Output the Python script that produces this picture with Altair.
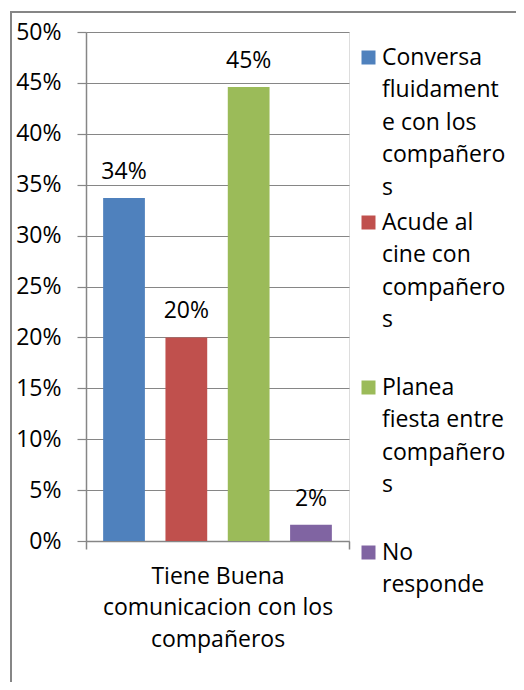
import altair as alt
import pandas as pd

# ---- data ----
categoria = "Tiene Buena comunicacion con los compañeros"
categoria_lineas = ["Tiene Buena", "comunicacion con los", "compañeros"]
series = [
    "Conversa fluidamente con los compañeros",
    "Acude al cine con compañeros",
    "Planea fiesta entre compañeros",
    "No responde",
]
leyenda_lineas = [
    ["Conversa", "fluidament", "e con los", "compañero", "s"],
    ["Acude al", "cine con", "compañero", "s"],
    ["Planea", "fiesta entre", "compañero", "s"],
    ["No", "responde"],
]
valores = [0.337, 0.200, 0.446, 0.016]
colores = ["#4F81BD", "#C0504D", "#9BBB59", "#8064A2"]
y_ticks = [0, 0.05, 0.10, 0.15, 0.20, 0.25, 0.30, 0.35, 0.40, 0.45, 0.50]

df = pd.DataFrame({"grupo": [categoria] * len(series), "serie": series, "valor": valores})

FONT = "Open Sans"
FS = 23
GRAY = "#868686"


def arr(lines, n=None):
    lines = list(lines)
    if n is not None:
        lines = lines + [""] * (n - len(lines))
    return "[" + ",".join("'" + l + "'" for l in lines) + "]"


nmax = max(len(l) for l in leyenda_lineas)
legend_expr = "datum.label"
for s, lines in reversed(list(zip(series, leyenda_lineas))):
    legend_expr = f"datum.label == '{s}' ? {arr(lines, nmax)} : ({legend_expr})"

x_expr = f"datum.label == '{categoria}' ? {arr(categoria_lineas)} : datum.label"

x_enc = alt.X(
    "grupo:N",
    title=None,
    scale=alt.Scale(paddingInner=0, paddingOuter=0),
    axis=alt.Axis(
        labelAngle=0,
        labelExpr=x_expr,
        labelLimit=500,
        labelLineHeight=31.5,
        labelPadding=16,
        tickBand="extent",
        tickSize=8,
        tickColor=GRAY,
        tickWidth=1.5,
        domainColor=GRAY,
        domainWidth=1.5,
        labelFont=FONT,
        labelFontSize=FS,
        labelColor="#000000",
    ),
)
xoff_enc = alt.XOffset(
    "serie:N",
    sort=series,
    scale=alt.Scale(paddingInner=0.33, paddingOuter=0.275),
)
y_enc = alt.Y(
    "valor:Q",
    title=None,
    scale=alt.Scale(domain=[0, 0.5], nice=False),
    axis=alt.Axis(
        values=y_ticks,
        format=".0%",
        grid=True,
        gridColor=GRAY,
        gridWidth=1.2,
        domainColor=GRAY,
        domainWidth=1.5,
        tickColor=GRAY,
        tickSize=9,
        tickWidth=1.2,
        labelPadding=16,
        labelFont=FONT,
        labelFontSize=FS,
        labelColor="#000000",
    ),
)

bars = alt.Chart(df).mark_bar().encode(
    x=x_enc,
    xOffset=xoff_enc,
    y=y_enc,
    color=alt.Color(
        "serie:N",
        sort=series,
        scale=alt.Scale(domain=series, range=colores),
        legend=alt.Legend(
            title=None,
            orient="none",
            direction="vertical",
            legendX=271,
            legendY=21,
            symbolType="M-1,-2H1V0H-1Z",
            symbolSize=196,
            symbolStrokeWidth=0,
            labelBaseline="alphabetic",
            labelExpr=legend_expr,
            labelFont=FONT,
            labelFontSize=FS,
            labelColor="#000000",
            labelLimit=300,
            labelOffset=2,
            rowPadding=11,
        ),
    ),
)

labels = alt.Chart(df).mark_text(
    baseline="alphabetic", dy=-19, font=FONT, fontSize=FS, color="#000000"
).encode(
    x=x_enc,
    xOffset=xoff_enc,
    y=y_enc,
    text=alt.Text("valor:Q", format=".0%"),
)

frame = alt.Chart(pd.DataFrame({"f": [0]})).mark_rect(
    fillOpacity=0, stroke=GRAY, strokeWidth=2
).encode(
    x=alt.value(-75), x2=alt.value(800), y=alt.value(-20), y2=alt.value(900)
)

chart = (
    alt.layer(frame, bars, labels)
    .properties(
        width=263,
        height=509,
        padding={"left": 78, "top": 24, "right": 167, "bottom": 141},
        autosize=alt.AutoSizeParams(type="none"),
    )
    .configure_view(strokeWidth=0)
    .configure(style={"guide-label": {"lineHeight": 32.5}})
)

chart.save("out.html", embed_options={"renderer": "svg", "actions": False})
